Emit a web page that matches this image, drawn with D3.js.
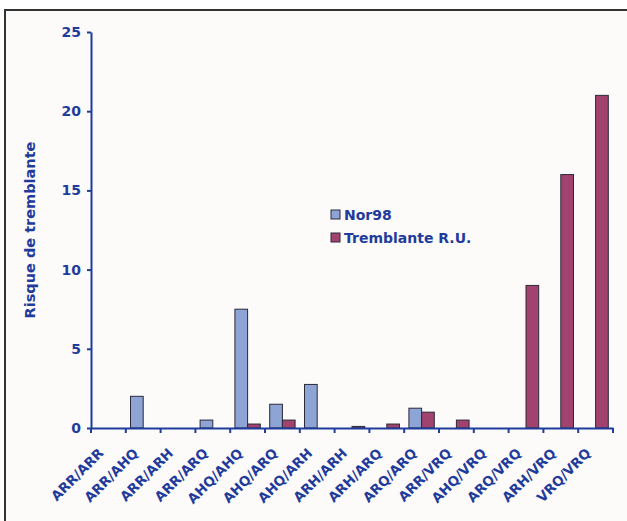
<!DOCTYPE html>
<html><head><meta charset="utf-8">
<script src="https://cdn.jsdelivr.net/npm/d3@7"></script>
<style>html,body{margin:0;padding:0;background:#fff}</style>
</head><body>
<script>
const categories = ["ARR/ARR","ARR/AHQ","ARR/ARH","ARR/ARQ","AHQ/AHQ","AHQ/ARQ","AHQ/ARH","ARH/ARH","ARH/ARQ","ARQ/ARQ","ARR/VRQ","AHQ/VRQ","ARQ/VRQ","ARH/VRQ","VRQ/VRQ"];
const nor98 = [0,2,0,0.5,7.5,1.5,2.75,0,0,1.25,0,0,0,0,0];
const tremblante = [0,0,0,0,0.25,0.5,0,0.1,0.25,1,0.5,0,9,16,21];
const seriesNames = ["Nor98","Tremblante R.U."];
const yTicks = [0,5,10,15,20,25];
const yLabel = "Risque de tremblante";

const W = 627, H = 521;
const blue = "#1f3c9c";
const colors = ["#8ea4d4", "#a2426f"];
const font = "DejaVu Sans, Verdana, sans-serif";

const svg = d3.select("body").append("svg").attr("width", W).attr("height", H);
svg.append("rect").attr("width", W).attr("height", H).attr("fill", "#ffffff");
svg.append("rect").attr("x", 5).attr("y", 10).attr("width", W + 10).attr("height", H + 10)
  .attr("fill", "#fdfafa").attr("stroke", "#333").attr("stroke-width", 2);

const x0 = 91, x1 = 613, yTop = 32, yBot = 428;
const x = d3.scaleBand().domain(categories).range([x0, x1]).paddingInner(0).paddingOuter(0);
const xs = d3.scaleBand().domain([0,1]).range([0, x.bandwidth()]).paddingInner(0).paddingOuter(0.37);
const y = d3.scaleLinear().domain([0, 25]).range([yBot, yTop]);

const data = categories.map((c, i) => ({c, v: [nor98[i], tremblante[i]]}));
const g = svg.append("g");
data.forEach(d => {
  d.v.forEach((v, k) => {
    if (v <= 0) return;
    g.append("rect")
      .attr("x", x(d.c) + xs(k))
      .attr("y", y(v))
      .attr("width", xs.bandwidth())
      .attr("height", yBot - y(v))
      .attr("fill", colors[k])
      .attr("stroke", "#2a2a3a").attr("stroke-width", 1);
  });
});

// Y axis
const yAxis = d3.axisLeft(y).tickValues(yTicks).tickSize(4).tickPadding(6).tickSizeOuter(0);
const ya = svg.append("g").attr("transform", `translate(${x0},0)`).call(yAxis);
ya.select(".domain").attr("stroke", blue).attr("stroke-width", 2);
ya.selectAll(".tick line").attr("stroke", blue).attr("stroke-width", 2);
ya.selectAll(".tick text").attr("fill", blue).attr("font-family", font)
  .attr("font-weight", "bold").attr("font-size", 14);

// X axis
const xAxis = d3.axisBottom(x).tickSize(0).tickFormat("");
const xa = svg.append("g").attr("transform", `translate(0,${yBot})`).call(xAxis);
xa.select(".domain").attr("stroke", blue).attr("stroke-width", 2);
const tickPos = d3.range(categories.length + 1).map(i => x0 + i * x.step());
xa.selectAll(".xt").data(tickPos).enter().append("line")
  .attr("x1", d => d).attr("x2", d => d).attr("y1", 0).attr("y2", 5)
  .attr("stroke", blue).attr("stroke-width", 2);
xa.selectAll(".tick").remove();
svg.append("g").selectAll("text").data(categories).enter().append("text")
  .attr("transform", d => `translate(${x(d) + x.bandwidth()/2 - 4},${yBot + 26}) rotate(-45)`)
  .attr("text-anchor", "end")
  .attr("fill", blue).attr("font-family", font).attr("font-weight", "bold").attr("font-size", 13.5)
  .text(d => d);

// Y label
svg.append("text").attr("transform", `translate(35,${230}) rotate(-90)`)
  .attr("text-anchor", "middle").attr("fill", blue).attr("font-family", font)
  .attr("font-weight", "bold").attr("font-size", 14.5).text(yLabel);

// Legend
const lg = svg.append("g").attr("transform", "translate(331,210)");
seriesNames.forEach((n, i) => {
  lg.append("rect").attr("x", 0).attr("y", i * 23).attr("width", 9).attr("height", 9)
    .attr("fill", colors[i]).attr("stroke", "#2a2a3a").attr("stroke-width", 1);
  lg.append("text").attr("x", 13).attr("y", i * 23 + 10).attr("fill", blue)
    .attr("font-family", font).attr("font-weight", "bold").attr("font-size", 14).text(n);
});
</script>
</body></html>
